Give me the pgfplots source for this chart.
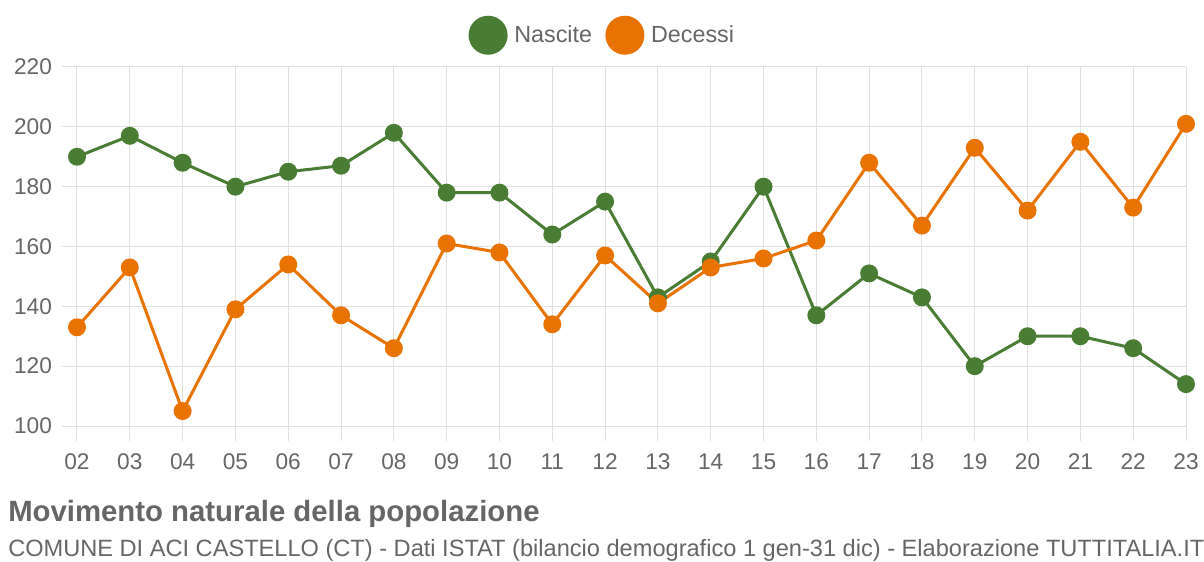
\documentclass[border=0pt]{standalone}
\usepackage{pgfplots}
\pgfplotsset{compat=1.18}
\usepackage{fontspec}
\setmainfont{Liberation Sans}
\definecolor{cgreen}{HTML}{4A7D34}
\definecolor{corange}{HTML}{E87300}
\definecolor{cgrid}{HTML}{E0E0E0}
\definecolor{ctext}{HTML}{666666}
\begin{document}
\begin{tikzpicture}[x=1pt,y=1pt]
\useasboundingbox (0,0) rectangle (903,420.75);
\begin{axis}[
  at={(57.75pt,101.25pt)}, anchor=south west,
  scale only axis, width=831.75pt, height=269.25pt,
  xmin=0, xmax=21, ymin=100, ymax=220,
  xtick={0,...,21},
  xticklabels={02,03,04,05,06,07,08,09,10,11,12,13,14,15,16,17,18,19,20,21,22,23},
  ytick={100,120,...,220},
  axis x line*=bottom, axis y line*=left,
  axis line style={draw=none},
  grid=major, major grid style={cgrid, line width=0.75pt},
  tick align=outside, major tick length=11.25pt,
  tick style={cgrid, line width=0.75pt},
  ticklabel style={font=\fontsize{17}{19}\selectfont, text=ctext},
  xticklabel style={yshift=-6pt},
  yticklabel style={xshift=-4pt},
  /pgf/number format/assume math mode=true,
  clip=false,
  legend columns=2,
  legend style={at={(0.474,1)}, anchor=south, yshift=7pt, draw=none, fill=none,
    font=\fontsize{17.5}{19}\selectfont, text=ctext,
    /tikz/every odd column/.append style={column sep=3pt},
    /tikz/every even column/.append style={column sep=8pt}},
  legend image code/.code={\fill (13pt,0) circle (13.5pt);},
]
\addplot[cgreen, line width=2.25pt, mark=*, mark size=5.6pt, mark options={fill=cgreen, draw=cgreen}] coordinates {
(0,190) (1,197) (2,188) (3,180) (4,185) (5,187) (6,198) (7,178) (8,178) (9,164) (10,175)
(11,143) (12,155) (13,180) (14,137) (15,151) (16,143) (17,120) (18,130) (19,130) (20,126) (21,114)};
\addlegendentry{Nascite}
\addplot[corange, line width=2.25pt, mark=*, mark size=5.6pt, mark options={fill=corange, draw=corange}] coordinates {
(0,133) (1,153) (2,105) (3,139) (4,154) (5,137) (6,126) (7,161) (8,158) (9,134) (10,157)
(11,141) (12,153) (13,156) (14,162) (15,188) (16,167) (17,193) (18,172) (19,195) (20,173) (21,201)};
\addlegendentry{Decessi}
\end{axis}
\node[anchor=base west, inner sep=0, text=ctext, font=\fontsize{22}{24}\selectfont\bfseries] at (6,30) {Movimento naturale della popolazione};
\node[anchor=base west, inner sep=0, text=ctext, font=\fontsize{17.7}{19}\selectfont] at (6,3.75) {COMUNE DI ACI CASTELLO (CT) - Dati ISTAT (bilancio demografico 1 gen-31 dic) - Elaborazione TUTTITALIA.IT};
\end{tikzpicture}
\end{document}
